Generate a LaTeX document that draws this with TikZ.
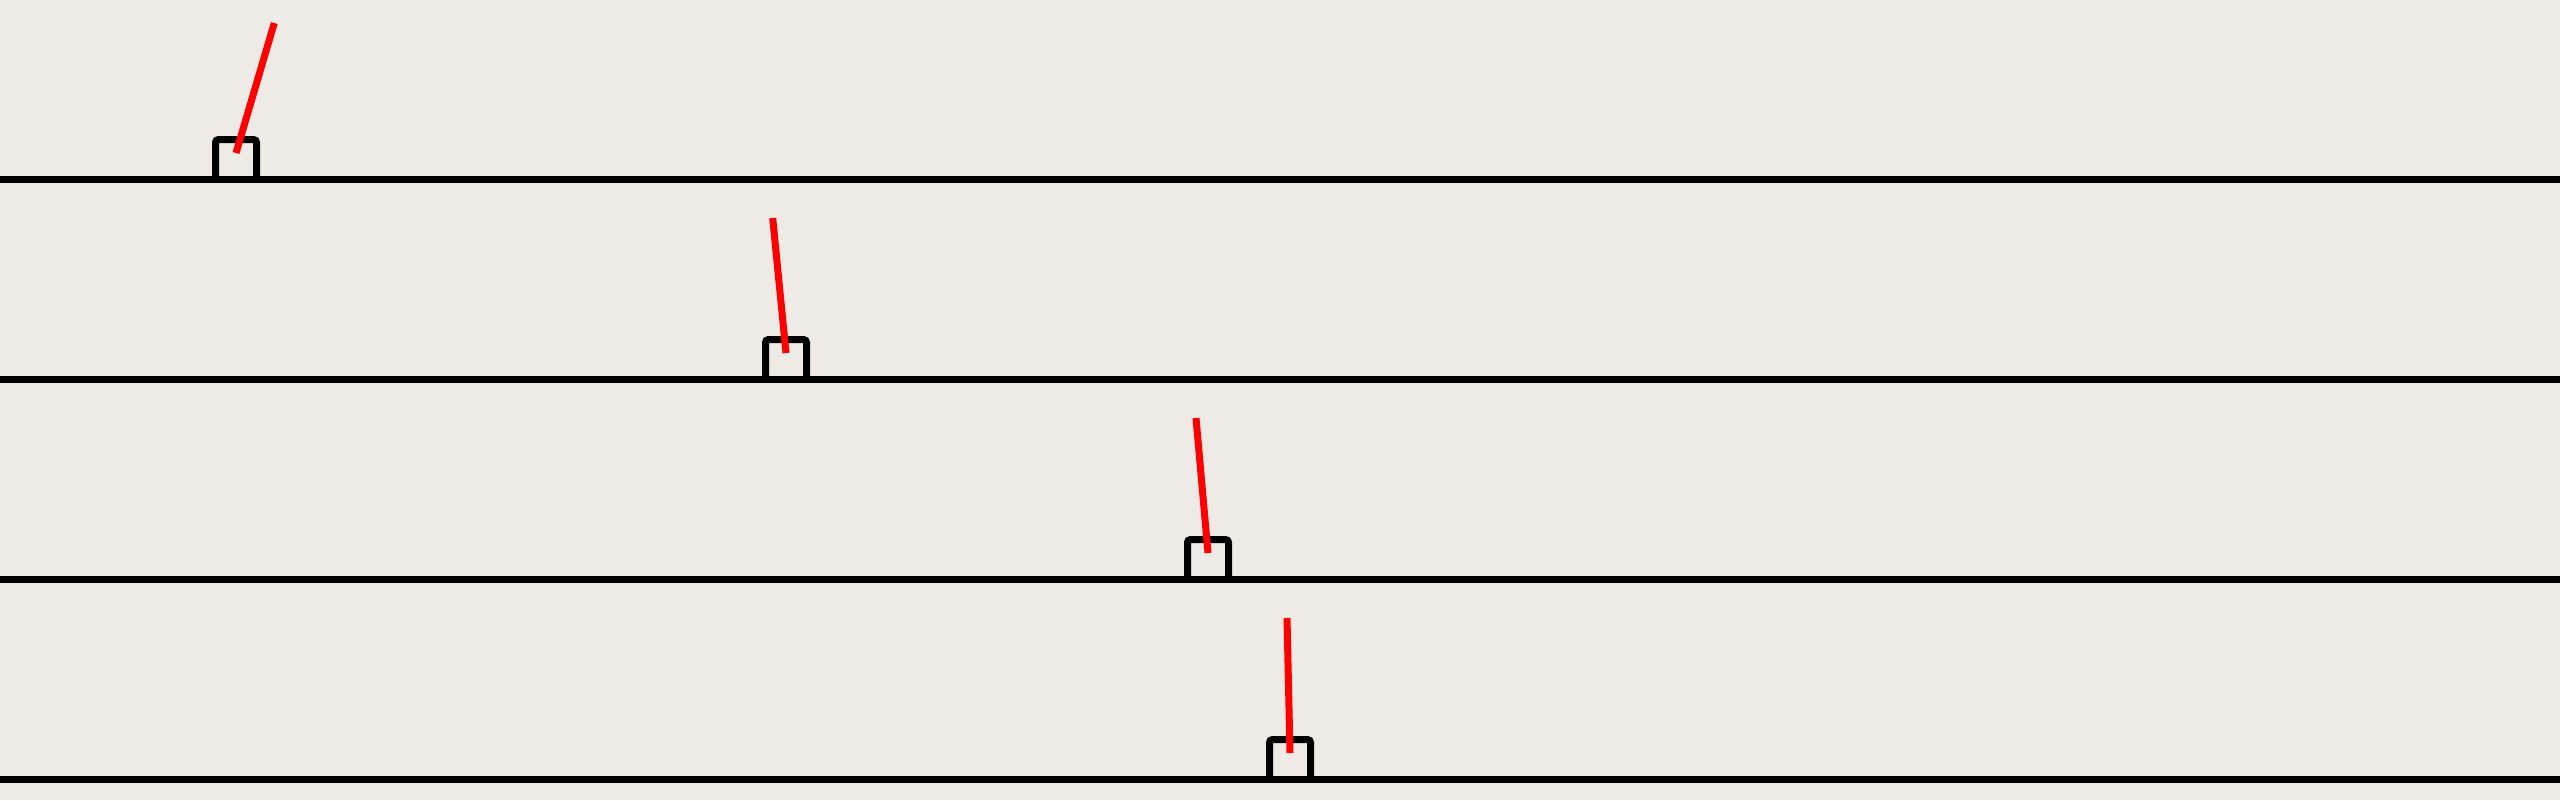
\documentclass[tikz,border=0pt]{standalone}
\definecolor{bgc}{RGB}{238,235,230}
\definecolor{polec}{RGB}{255,0,0}
\tikzset{
  track/.style={draw=black, line width=3.5pt},
  cart/.style={draw=black, line width=3.5pt, rounded corners=1.5pt},
  pole/.style={draw=polec, line width=3.5pt, line cap=butt}
}
\begin{document}
\begin{tikzpicture}[x=0.5pt,y=-0.5pt]
\fill[bgc] (0,0) rectangle (2560,800);
\useasboundingbox (0,0) rectangle (2560,800);
% rows: cart centre x, line y, pole top
\foreach \cx/\ly/\tx/\ty in {236/179.5/274.3/23, 786/379.5/772.7/218, 1208/579.5/1196/418, 1290/779.5/1287/618}{
  \draw[track] (0,\ly) -- (2560,\ly);
  \draw[cart] (\cx-20.5,\ly) -- (\cx-20.5,\ly-40) -- (\cx+20.5,\ly-40) -- (\cx+20.5,\ly);
  \coordinate (pb) at (\cx,\ly-26.5);
  \coordinate (pt) at (\tx,\ty);
  \draw[pole] (pb) -- (pt);
}
\end{tikzpicture}
\end{document}
